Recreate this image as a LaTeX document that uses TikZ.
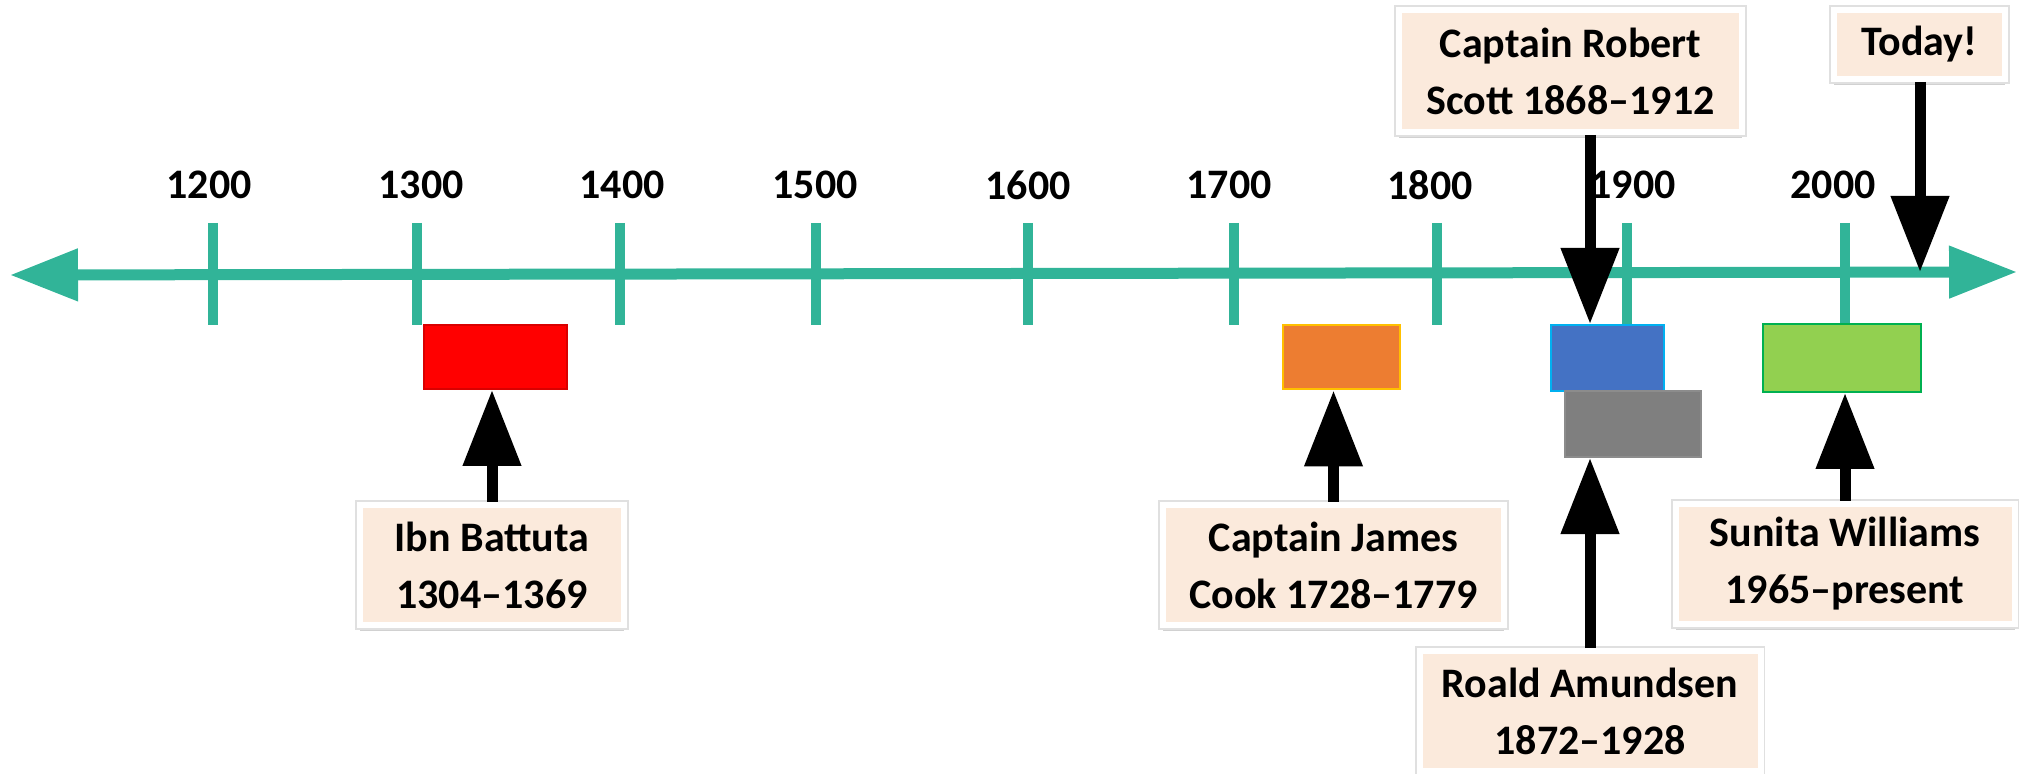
\documentclass[tikz,border=0pt]{standalone}
\usepackage{fontspec}
\setmainfont{Carlito}
\usetikzlibrary{arrows.meta,shadows}

\definecolor{axisteal}{RGB}{49,180,152}
\definecolor{peach}{RGB}{251,234,220}
\definecolor{spanred}{RGB}{255,0,0}
\definecolor{spanorange}{RGB}{237,125,49}
\definecolor{edgeorange}{RGB}{255,192,0}
\definecolor{spanblue}{RGB}{68,114,196}
\definecolor{edgeblue}{RGB}{0,176,240}
\definecolor{spangray}{RGB}{127,127,127}
\definecolor{edgegray}{RGB}{140,140,140}
\definecolor{spangreen}{RGB}{146,208,80}
\definecolor{edgegreen}{RGB}{0,176,80}

\begin{document}
\begin{tikzpicture}[x=0.5pt,y=-0.5pt,
  yearlabel/.style={inner sep=0pt, font=\bfseries\fontsize{21pt}{25pt}\selectfont},
  lifespan/.style={rectangle, inner sep=0pt, line width=1pt},
  infobox/.style={rectangle, fill=peach, draw=white, line width=3pt,
    align=center, inner sep=0pt,
    font=\bfseries\fontsize{21pt}{28.5pt}\selectfont,
    drop shadow={shadow xshift=0pt, shadow yshift=-3.2pt, fill=black!40, opacity=0.45},
    preaction={draw=black!12, line width=4.6pt}},
  pointer/.style={line width=5.5pt, -{Triangle[length=38pt,width=28pt]}},
]
\useasboundingbox (0,0) rectangle (2022,774);

% time axis
\coordinate (axisL) at (10,275);
\coordinate (axisR) at (2017,272);
\draw[axisteal, line width=5.5pt, {Triangle[length=34pt,width=25pt]}-{Triangle[length=34pt,width=25pt]}]
  (axisL) -- (axisR);

% century ticks and their labels
\foreach \tx/\lx/\yr in {213/209/1200, 417/421/1300, 620/622/1400, 816/815/1500,
    1028/1028/1600, 1234/1229/1700, 1437/1430/1800, 1627/1633/1900, 1845/1833/2000}{
  \draw[axisteal, line width=5pt] (\tx,223) -- (\tx,325);
  \node[yearlabel] (y\yr) at (\lx,185) {\yr};
}

% lifespans
\node[lifespan, fill=spanred, draw=spanred!85!black, minimum width=71.5pt, minimum height=32pt] (red) at (495.5,357) {};
\node[lifespan, fill=spanorange, draw=edgeorange, minimum width=58.5pt, minimum height=32pt] (orange) at (1341,357.5) {};
\node[lifespan, fill=spanblue, draw=edgeblue, minimum width=56.5pt, minimum height=33pt] (blue) at (1607.5,358) {};
\node[lifespan, fill=spangray, draw=edgegray, minimum width=68pt, minimum height=33pt] (gray) at (1632.5,424) {};
\node[lifespan, fill=spangreen, draw=edgegreen, minimum width=79pt, minimum height=34pt] (green) at (1841.5,358) {};

% explorer labels
\node[infobox, minimum width=132pt, minimum height=60pt] (ibn) at (492,565) {Ibn Battuta\\1304--1369};
\node[infobox, minimum width=170.5pt, minimum height=60pt] (cook) at (1333.5,565) {Captain James\\Cook 1728--1779};
\node[infobox, minimum width=169.5pt, minimum height=60pt] (sunita) at (1845,564) {Sunita Williams\\1965--present};
\node[infobox, minimum width=170.5pt, minimum height=60pt] (amundsen) at (1590,711) {Roald Amundsen\\1872--1928};
\node[infobox, minimum width=171.5pt, minimum height=61pt] (scott) at (1570.5,71) {Captain Robert\\Scott 1868--1912};
\node[infobox, minimum width=85.5pt, minimum height=34.5pt] (today) at (1919.5,44.5) {Today!};

% pointers
\coordinate (scottx) at (1590,0);
\coordinate (todayx) at (1920,0);
\draw[pointer] (ibn.north) -- (ibn.north |- red.south);
\draw[pointer] (cook.north) -- (cook.north |- orange.south);
\draw[pointer] (sunita.north) -- (sunita.north |- green.south);
\draw[pointer] (amundsen.north) -- (amundsen.north |- gray.south);
\draw[pointer] (scott.south -| scottx) -- (blue.north -| scottx);
\draw[pointer] (today.south -| todayx) -- (todayx |- axisR);
\end{tikzpicture}
\end{document}
